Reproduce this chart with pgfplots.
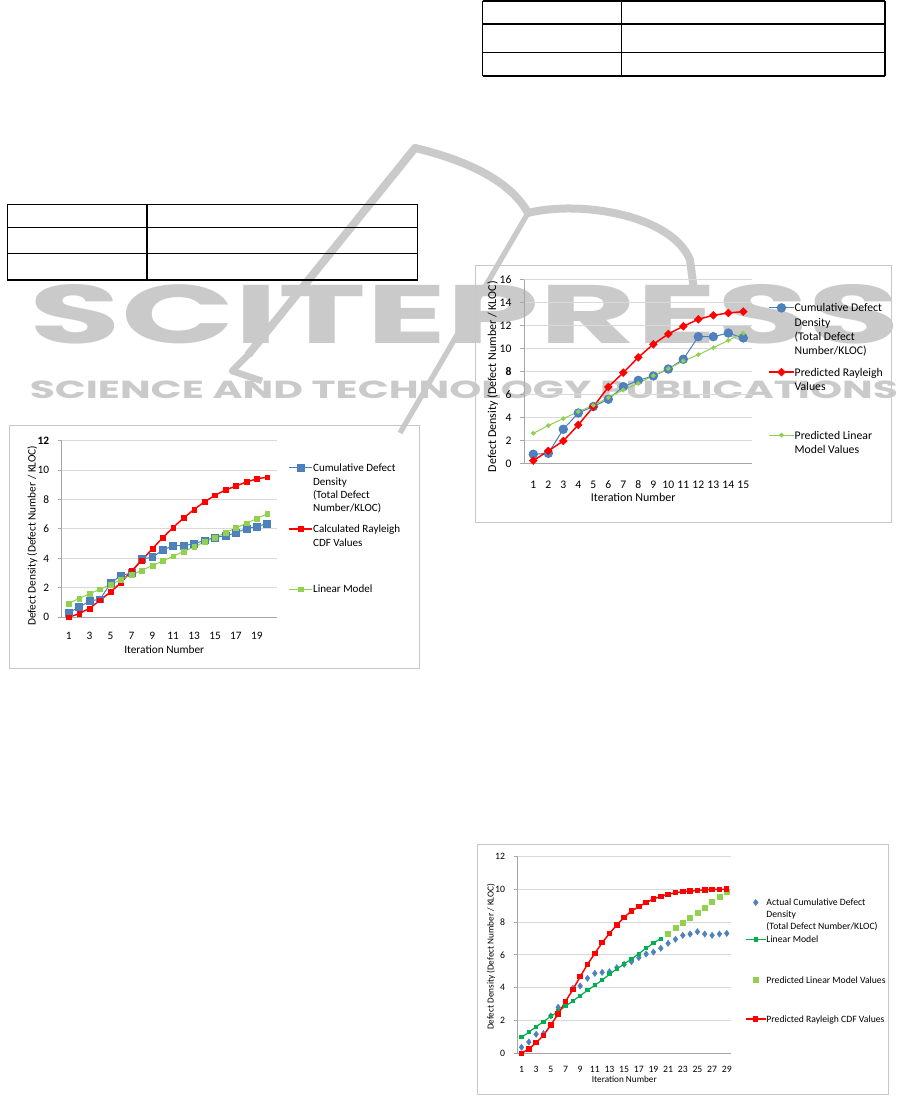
\documentclass[border=0pt]{standalone}
\usepackage{fontspec}
\setmainfont{Carlito}
\newfontfamily\wmfont{Poppins}
\usepackage{pgfplots}
\pgfplotsset{compat=1.18}

\definecolor{xlblue}{HTML}{4F81BD}
\definecolor{xlblueln}{HTML}{4A7EBB}
\definecolor{xlred}{HTML}{FF0000}
\definecolor{xlgreen}{HTML}{92D050}
\definecolor{xldkgreen}{HTML}{00B050}
\definecolor{xlgrid}{HTML}{D9D9D9}
\definecolor{xlaxis}{HTML}{A6A6A6}
\definecolor{wm}{HTML}{CACACA}

% one more text line of a legend entry, with no image
\newcommand{\moreline}[1]{\addlegendimage{empty legend}\addlegendentry{#1}}

\pgfplotsset{
  xl/.style={
    scale only axis, anchor=south west, clip=false,
    axis x line=bottom, axis y line=left,
    every inner x axis line/.append style={-},
    every inner y axis line/.append style={-},
    every outer x axis line/.append style={-},
    every outer y axis line/.append style={-},
    axis line style={draw=xlaxis, line width=0.75pt},
    ymajorgrids, major grid style={draw=xlgrid, line width=0.75pt},
    xtick style={draw=none},
    ytick style={draw=xlaxis, line width=0.75pt},
    tick align=outside, major tick length=3pt,
    xlabel={Iteration Number},
    ylabel={Defect Density (Defect Number / KLOC)},
    yticklabel style={anchor=east, inner sep=0pt},
    xticklabel style={anchor=center, inner sep=0pt},
    legend style={draw=none, fill=none, inner sep=0pt, outer sep=0pt,
      row sep=0pt, column sep=0pt, anchor=north west,
      cells={anchor=base west}},
  },
}

\begin{document}
\begin{tikzpicture}
\fill[white] (0,0) rectangle (686.25pt,823.5pt);
\path[use as bounding box] (0,0) rectangle (686.25pt,823.5pt);

% page decorations in pixel coordinates (y downwards)
\begin{scope}[x=0.75pt,y=-0.75pt,shift={(0pt,823.5pt)}]
  % watermark
  \node[anchor=south west, inner sep=0pt, text=wm] at (29.3,344)
    {\resizebox{653pt}{44.25pt}{\wmfont\bfseries SCITEPRESS}};
  \node[anchor=south west, inner sep=0pt, text=wm] at (29.5,399.3)
    {\resizebox{651pt}{13.2pt}{\wmfont\bfseries SCIENCE AND TECHNOLOGY PUBLICATIONS}};
  \draw[wm, line width=6pt, line join=round]
    (248,355) -- (415,148) .. controls (465,160) and (510,180) .. (528,213);
  \draw[wm, line width=6pt]
    (528,213) .. controls (580,200) and (672,215) .. (690,260) -- (694,290);
  \draw[wm, line width=4pt] (528,213) -- (400,433);
  \draw[wm, line width=5pt, line join=round] (250,353) -- (232,371) -- (262,381);

  % tables
  \begin{scope}[line width=1pt]
    \foreach \y in {204.3,227.7,253.3,280} \draw (7.3,\y) -- (417.7,\y);
    \foreach \x in {7.3,147,417.7} \draw (\x,204.3) -- (\x,280);
    \foreach \y in {1,24,52.3,76} \draw (482.7,\y) -- (885,\y);
    \foreach \x in {482.7,621.7,885} \draw (\x,1) -- (\x,76);
  \end{scope}

  % chart frames
  \draw[black!22, line width=0.75pt] (9.3,426) rectangle (419,668.3);
  \draw[black!22, line width=0.75pt] (475.7,265.7) rectangle (891,523);
  \draw[black!22, line width=0.75pt] (477.7,845) rectangle (888,1095);
\end{scope}

% ---------------- chart 1 ----------------
\begin{axis}[xl,
  at={(46.275pt,360.525pt)}, width=161.25pt, height=132.45pt,
  xmin=0.33, xmax=20.9, ymin=0, ymax=12,
  xtick={1,3,...,19}, xticklabels={1,3,5,7,9,11,13,15,17,19},
  ytick={0,2,...,12}, yticklabels={0,2,4,6,8,10,\textbf{12}},
  yticklabel style={xshift=-6.3pt}, xticklabel style={yshift=-11.25pt},
  ticklabel style={font=\fontsize{8.5}{10}\selectfont},
  label style={font=\fontsize{8.5}{10}\selectfont},
  ylabel style={at={(axis description cs:-0.1367,0.462)}, anchor=center},
  xlabel style={at={(axis description cs:0.477,-0.181)}, anchor=center},
  legend style={at={(axis description cs:1.054,0.878)},
    font=\fontsize{8.3}{10.1}\selectfont,
    nodes={inner sep=0pt, text height=7pt, text depth=3.1pt}},
  legend image code/.code={\draw[mark repeat=2,mark phase=2,#1]
    plot coordinates {(0pt,2.8pt)(8.75pt,2.8pt)(17.5pt,2.8pt)};},
]
\addplot[xlblueln, line width=0.75pt, mark=square*, mark size=2.6pt,
  mark options={fill=xlblue, draw=xlblueln, line width=0.5pt}] coordinates {
  (1,0.32)(2,0.68)(3,1.11)(4,1.22)(5,2.31)(6,2.85)(7,3.00)(8,3.96)(9,4.08)(10,4.57)
  (11,4.87)(12,4.88)(13,4.99)(14,5.23)(15,5.42)(16,5.55)(17,5.73)(18,6.04)(19,6.16)(20,6.38)};
\addlegendentry{Cumulative Defect}
\moreline{Density}
\moreline{(Total Defect}
\moreline{Number/KLOC)}
\addplot[xlred, line width=1.1pt, mark=square*, mark size=1.8pt,
  mark options={fill=xlred, line width=0.3pt}] coordinates {
  (1,0)(2,0.25)(3,0.61)(4,1.16)(5,1.72)(6,2.35)(7,3.15)(8,3.87)(9,4.66)(10,5.41)
  (11,6.11)(12,6.75)(13,7.33)(14,7.85)(15,8.29)(16,8.65)(17,8.92)(18,9.19)(19,9.41)(20,9.52)};
\addlegendentry[text height=12.35pt]{Calculated Rayleigh}
\moreline{CDF Values}
\addplot[xlgreen, line width=0.75pt, mark=square*, mark size=1.8pt,
  mark options={fill=xlgreen, line width=0.3pt}] coordinates {
  (1,0.95)(2,1.28)(3,1.60)(4,1.91)(5,2.23)(6,2.55)(7,2.87)(8,3.19)(9,3.51)(10,3.83)
  (11,4.15)(12,4.47)(13,4.79)(14,5.11)(15,5.43)(16,5.75)(17,6.07)(18,6.39)(19,6.71)(20,7.03)};
\addlegendentry[text height=32pt]{Linear Model}
\end{axis}

% ---------------- chart 2 ----------------
\begin{axis}[xl,
  at={(393.225pt,476.025pt)}, width=170.55pt, height=137.475pt,
  xmin=0.4, xmax=15.56, ymin=0, ymax=16,
  xtick={1,...,15}, xticklabels={1,2,3,4,5,6,7,8,9,10,11,12,13,14,15},
  ytick={0,2,...,16}, yticklabels={0,2,4,6,\textbf{8},10,12,14,16},
  yticklabel style={xshift=-6.45pt}, xticklabel style={yshift=-13.3pt},
  ticklabel style={font=\fontsize{8.7}{10}\selectfont},
  label style={font=\fontsize{9}{10.5}\selectfont},
  ylabel style={at={(axis description cs:-0.139,0.472)}, anchor=center},
  xlabel style={at={(axis description cs:0.479,-0.1855)}, anchor=center},
  legend style={at={(axis description cs:1.0726,0.877)},
    font=\fontsize{8.8}{10.6}\selectfont,
    nodes={inner sep=0pt, text height=7pt, text depth=3.6pt}},
  legend image code/.code={\draw[mark repeat=2,mark phase=2,#1]
    plot coordinates {(0pt,3pt)(9.4pt,3pt)(18.75pt,3pt)};},
]
\addplot[xlblueln, line width=0.75pt, mark=*, mark size=3.25pt,
  mark options={fill=xlblue, draw=xlblueln, line width=0.5pt}] coordinates {
  (1,0.79)(2,0.87)(3,2.97)(4,4.39)(5,4.95)(6,5.59)(7,6.69)(8,7.24)(9,7.62)(10,8.23)
  (11,9.08)(12,11.05)(13,11.05)(14,11.37)(15,10.94)};
\addlegendentry{Cumulative Defect}
\moreline{Density}
\moreline{(Total Defect}
\moreline{Number/KLOC)}
\addplot[xlred, line width=1.1pt, mark=square*, mark size=2.1pt,
  mark options={fill=xlred, rotate=45, line width=0.3pt}] coordinates {
  (1,0.23)(2,1.08)(3,1.95)(4,3.35)(5,4.92)(6,6.66)(7,7.91)(8,9.25)(9,10.39)(10,11.29)
  (11,11.96)(12,12.57)(13,12.92)(14,13.12)(15,13.24)};
\addlegendentry[text height=12.8pt]{Predicted Rayleigh}
\moreline{Values}
\addplot[xlgreen, line width=0.75pt, mark=square*, mark size=1.15pt,
  mark options={fill=xlgreen, rotate=45, line width=0.3pt}] coordinates {
  (1,2.62)(2,3.29)(3,3.90)(4,4.51)(5,5.06)(6,5.73)(7,6.40)(8,6.98)(9,7.65)(10,8.26)
  (11,8.93)(12,9.48)(13,10.09)(14,10.73)(15,11.37)};
\addlegendentry[text height=33.05pt]{Predicted Linear}
\moreline{Model Values}
\end{axis}

% ---------------- chart 3 ----------------
\begin{axis}[xl,
  at={(388.275pt,33.525pt)}, width=159.975pt, height=147.45pt,
  xmin=0.48, xmax=29.58, ymin=0, ymax=12,
  xtick={1,3,...,29}, xticklabels={1,3,5,7,9,11,13,15,17,19,21,23,25,27,29},
  ytick={0,2,...,12}, yticklabels={0,2,4,6,8,10,12},
  yticklabel style={xshift=-6.3pt}, xticklabel style={yshift=-9.3pt},
  ticklabel style={font=\fontsize{7.3}{9}\selectfont},
  label style={font=\fontsize{6.9}{8.5}\selectfont},
  ylabel style={at={(axis description cs:-0.125,0.491)}, anchor=center},
  xlabel style={at={(axis description cs:0.4998,-0.132)}, anchor=center},
  legend style={at={(axis description cs:1.0656,0.7914)},
    font=\fontsize{7.25}{8.85}\selectfont,
    nodes={inner sep=0pt, text height=6pt, text depth=2.85pt}},
  legend image code/.code={\draw[mark repeat=2,mark phase=2,#1]
    plot coordinates {(0pt,2.4pt)(7.5pt,2.4pt)(15pt,2.4pt)};},
]
\addplot[only marks, mark=diamond*, mark size=2.3pt,
  mark options={fill=xlblue, draw=xlblue}] coordinates {
  (1,0.37)(2,0.69)(3,1.16)(4,1.20)(5,2.28)(6,2.81)(7,3.05)(8,3.97)(9,4.11)(10,4.58)
  (11,4.88)(12,4.94)(13,4.98)(14,5.23)(15,5.43)(16,5.59)(17,5.84)(18,6.06)(19,6.18)(20,6.41)
  (21,6.71)(22,6.96)(23,7.20)(24,7.28)(25,7.42)(26,7.28)(27,7.20)(28,7.28)(29,7.32)};
\addlegendentry{Actual Cumulative Defect}
\moreline{Density}
\moreline{(Total Defect Number/KLOC)}
\addplot[xldkgreen, line width=0.9pt, mark=square*, mark size=1.1pt,
  mark options={fill=xldkgreen}] coordinates {
  (1,0.98)(2,1.28)(3,1.63)(4,1.93)(5,2.26)(6,2.56)(7,2.87)(8,3.19)(9,3.52)(10,3.84)
  (11,4.15)(12,4.47)(13,4.82)(14,5.15)(15,5.45)(16,5.76)(17,6.08)(18,6.41)(19,6.73)(20,7.00)};
\addlegendentry[text height=7.2pt]{Linear Model}
\addplot[only marks, mark=square*, mark size=1.9pt,
  mark options={fill=xlgreen, draw=xlgreen}] coordinates {
  (21,7.32)(22,7.65)(23,7.97)(24,8.28)(25,8.60)(26,8.91)(27,9.25)(28,9.56)(29,9.88)};
\addlegendentry[text height=27.65pt]{Predicted Linear Model Values}
\addplot[xlred, line width=1.1pt, mark=square*, mark size=1.5pt,
  mark options={fill=xlred}] coordinates {
  (1,0)(2,0.26)(3,0.65)(4,1.10)(5,1.73)(6,2.40)(7,3.17)(8,3.88)(9,4.68)(10,5.43)
  (11,6.10)(12,6.75)(13,7.32)(14,7.83)(15,8.30)(16,8.68)(17,8.95)(18,9.21)(19,9.42)(20,9.58)
  (21,9.70)(22,9.80)(23,9.86)(24,9.90)(25,9.94)(26,9.97)(27,10.00)(28,10.00)(29,10.02)};
\addlegendentry[text height=26.15pt]{Predicted Rayleigh CDF Values}
\end{axis}
\end{tikzpicture}
\end{document}
